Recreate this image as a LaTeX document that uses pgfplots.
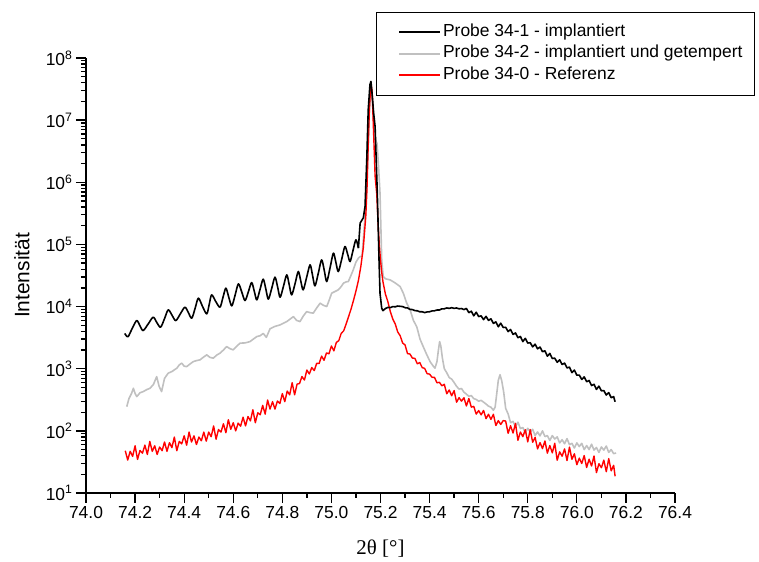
\documentclass[border=0pt]{standalone}
\usepackage{fontspec}
\setmainfont{Liberation Sans}
\newfontfamily\seriffont{Liberation Serif}
\usepackage{pgfplots}
\pgfplotsset{compat=1.18}
\pgfplotstableread{
x y
74.158 3700
74.163 3450
74.172 3290
74.190 4600
74.207 5950
74.220 4900
74.233 4110
74.254 5300
74.274 6750
74.289 5500
74.304 4660
74.320 6400
74.335 8850
74.351 7200
74.366 5950
74.385 7700
74.403 9780
74.417 8000
74.431 6500
74.445 9500
74.458 13650
74.475 10000
74.492 7630
74.502 10800
74.512 15420
74.529 12000
74.546 9780
74.558 14000
74.570 19780
74.582 14000
74.594 10260
74.608 15500
74.621 23200
74.635 17000
74.648 12500
74.662 17500
74.675 24330
74.686 17500
74.696 12820
74.709 18800
74.722 27600
74.733 19000
74.743 13150
74.757 19800
74.770 29720
74.781 20500
74.791 14160
74.805 21500
74.818 32400
74.828 22500
74.838 15420
74.852 23500
74.865 36640
74.875 26000
74.885 18580
74.899 29500
74.913 46900
74.923 32000
74.933 21540
74.947 35000
74.960 56490
74.971 38000
74.981 25290
74.995 43000
75.008 72400
75.018 52000
75.028 36640
75.042 58000
75.055 92500
75.066 70000
75.076 53100
75.088 80000
75.100 118600
75.110 87100
}\blackA
\pgfplotstableread{
x y
75.110 87100
75.117 220300
75.130 268000
75.137 407000
75.144 2.3e6
75.150 1.47e7
75.157 3.72e7
75.161 4.2e7
75.166 2.6e7
75.172 1.3e7
75.178 7.9e6
75.187 6.7e5
75.194 5.65e4
75.198 1.64e4
75.205 9400
75.210 8600
75.220 9300
75.230 9700
75.240 9600
75.250 10000
75.260 9900
75.270 10200
75.280 10100
75.290 10000
75.300 9600
75.310 9500
75.320 9000
75.330 8950
75.340 8600
75.350 8550
75.360 8250
75.370 8250
75.380 8000
75.390 8200
75.400 8250
75.410 8500
75.420 8550
75.430 8800
75.440 8800
75.450 9200
75.460 9200
75.470 9500
75.480 9350
75.490 9600
75.500 9350
75.510 9500
75.520 9200
75.530 9300
75.540 8950
75.55 9330
75.56 7990
75.57 8420
75.58 7100
75.59 8100
75.60 6910
75.61 7090
75.62 6160
75.63 6960
75.64 5990
75.65 6360
75.66 5360
75.67 5670
75.68 4730
75.69 5400
75.70 4610
75.71 4640
75.72 3960
75.73 4280
75.74 3560
75.75 3760
75.76 3150
75.77 3300
75.78 2730
75.79 3080
75.80 2590
75.81 2620
75.82 2250
75.83 2480
75.84 2090
75.85 2230
75.86 1880
75.87 1940
75.88 1590
75.89 1760
75.90 1460
75.91 1480
75.92 1270
75.93 1390
75.94 1170
75.95 1230
75.96 1030
75.97 1060
75.98 865
75.99 950
76.00 787
76.01 790
76.02 672
76.03 738
76.04 618
76.05 647
76.06 536
76.07 562
76.08 464
76.09 524
76.10 442
76.11 444
76.12 377
76.13 412
76.14 342
76.15 355
76.156 294
}\blackB
\pgfplotstableread{
x y
74.166 245
74.175 330
74.186 403
74.193 485
74.200 400
74.207 356
74.220 410
74.233 428
74.247 460
74.261 485
74.275 560
74.288 746
74.298 520
74.308 428
74.320 700
74.335 848
74.350 900
74.370 1020
74.380 1150
74.390 1230
74.400 1100
74.410 1080
74.425 1200
74.437 1300
74.450 1350
74.465 1390
74.480 1550
74.492 1670
74.505 1520
74.519 1480
74.532 1650
74.546 1780
74.560 2000
74.573 2270
74.587 2100
74.600 2010
74.614 2300
74.628 2580
74.648 2600
74.668 2730
74.682 3000
74.696 3290
74.710 3400
74.722 3700
74.735 3200
74.750 4400
74.770 4800
74.791 5070
74.805 5400
74.818 5730
74.832 6300
74.845 6900
74.858 6000
74.872 5730
74.885 7000
74.899 8300
74.912 8000
74.926 7830
74.940 9500
74.954 11350
74.967 10500
74.981 10000
74.992 13000
75.001 16440
75.015 17500
75.028 18580
75.040 21000
75.049 23800
75.060 25000
75.069 25290
75.080 32000
75.089 39000
75.100 52000
75.110 60100
75.117 63800
75.125 65000
75.130 1.2e5
75.140 4.0e5
75.148 2.5e6
75.155 1.5e7
75.162 3.2e7
75.168 2.0e7
75.174 7.0e6
75.180 4.8e6
75.186 4.2e6
75.192 1.8e6
75.198 6.7e5
75.205 5.6e4
75.211 3.04e4
75.220 2.8e4
75.239 2.69e4
75.260 2.4e4
75.280 2.1e4
75.293 1.64e4
75.307 1.13e4
75.320 9000
75.334 6000
75.348 4700
75.361 3000
75.374 2270
75.388 1700
75.402 1300
75.415 1100
75.422 1020
75.430 1300
75.436 2000
75.441 2730
75.446 2300
75.452 1500
75.460 1000
75.470 860
75.480 720
75.490 680
75.500 600
75.510 520
75.520 470
75.530 480
75.540 420
75.550 390
75.560 360
75.570 370
75.580 330
75.590 320
75.600 300
75.610 310
75.620 290
75.630 270
75.640 250
75.650 240
75.660 215
75.667 240
75.672 350
75.680 650
75.687 800
75.694 640
75.702 420
75.710 230
75.72 187
75.73 135
75.74 142
75.75 116
75.76 138
75.77 109
75.78 113
75.79 93
75.80 110
75.81 96
75.82 106
75.83 84
75.84 96
75.85 83
75.86 100
75.87 81
75.88 84
75.89 70
75.90 84
75.91 74
75.92 80
75.93 64
75.94 72
75.95 62
75.96 75
75.97 60
75.98 63
75.99 53
76.00 64
76.01 56
76.02 63
76.03 50
76.04 58
76.05 50
76.06 61
76.07 49
76.08 54
76.09 45
76.10 55
76.11 49
76.12 57
76.13 45
76.14 50
76.15 43
76.16 44
}\grey
\pgfplotstableread{
x y
74.16 47.9
74.17 33.9
74.18 46.8
74.19 38.9
74.20 57.5
74.21 34.7
74.22 48.4
74.23 43.7
74.24 58.9
74.25 41.7
74.26 67.6
74.27 46.8
74.28 57.5
74.29 41.7
74.30 55.0
74.31 47.9
74.32 66.1
74.33 46.8
74.34 64.6
74.35 53.7
74.36 79.4
74.37 47.9
74.38 67.6
74.39 61.7
74.40 83.2
74.41 58.9
74.42 95.5
74.43 66.1
74.44 83.2
74.45 60.3
74.46 79.4
74.47 69.2
74.48 95.5
74.49 68.4
74.50 95.5
74.51 80.4
74.52 120
74.53 73.3
74.54 105
74.55 95.5
74.56 130
74.57 93.3
74.58 151
74.59 106
74.60 135
74.61 100
74.62 133
74.63 119
74.64 166
74.65 120
74.66 170
74.67 145
74.68 219
74.69 135
74.70 195
74.71 182
74.72 257
74.73 186
74.74 313
74.75 224
74.76 295
74.77 224
74.78 302
74.79 275
74.80 398
74.81 295
74.82 437
74.83 380
74.84 596
74.85 380
74.86 565
74.87 578
74.88 748
74.89 658
74.90 951
74.91 824
74.92 1047
74.93 933
74.94 1219
74.95 1213
74.96 1592
74.97 1368
74.98 1795
74.99 1738
75.00 2323
75.01 1941
75.02 2642
75.03 2831
75.04 3715
75.05 4074
75.06 5248
75.07 6918
75.08 9120
75.09 12590
75.10 17780
75.11 26300
75.12 44670
75.13 89130
75.14 281800
75.145 794300
75.15 3.981e6
75.155 1.585e7
75.161 3.98e7
75.166 2.82e7
75.171 7.94e6
75.178 1.26e6
75.185 6.31e5
75.19 2.24e5
75.195 1.0e5
75.20 56230
75.205 35480
75.21 25120
75.22 15850
75.23 12020
75.24 8318
75.25 6310
75.26 5260
75.27 3917
75.28 3404
75.29 2600
75.30 2415
75.31 1754
75.32 1722
75.33 1483
75.34 1469
75.35 1199
75.36 1256
75.37 1042
75.38 1012
75.39 832
75.40 818
75.41 728
75.42 726
75.43 593
75.44 605
75.45 531
75.46 561
75.47 395
75.48 455
75.49 367
75.50 444
75.51 289
75.52 342
75.53 301
75.54 341
75.55 252
75.56 332
75.57 241
75.58 248
75.59 186
75.60 212
75.61 181
75.62 213
75.63 157
75.64 185
75.65 153
75.66 185
75.67 122
75.68 146
75.69 127
75.70 146
75.71 144
75.72 91.4
75.73 121
75.74 92.3
75.75 132
75.76 70.5
75.77 95.9
75.78 80.7
75.79 104
75.80 66.5
75.81 105
75.82 65.5
75.83 78.5
75.84 51.3
75.85 64.7
75.86 51.8
75.87 68.7
75.88 43.8
75.89 58.1
75.90 44.2
75.91 63.2
75.92 33.7
75.93 45.9
75.94 39.1
75.95 51.2
75.96 33.3
75.97 54.7
75.98 34.8
75.99 42.7
76.00 28.5
76.01 36.4
76.02 29.8
76.03 40.0
76.04 25.8
76.05 35.0
76.06 27.2
76.07 39.4
76.08 21.3
76.09 29.6
76.10 25.5
76.11 33.8
76.12 22.0
76.13 35.7
76.14 22.7
76.15 27.9
76.156 18.6
}\red
\begin{document}
\begin{tikzpicture}
\path (-86bp,-69bp) rectangle (673bp,493bp);
\begin{axis}[
  at={(0,0)}, anchor=south west,
  scale only axis,
  width=589bp, height=435bp,
  xmin=74, xmax=76.4,
  ymin=10, ymax=1e8,
  ymode=log,
  clip=false,
  axis x line=bottom, axis y line=left,
  axis line style={line width=1.3bp, -},
  xtick pos=bottom, ytick pos=left,
  xtick={74,74.2,74.4,74.6,74.8,75,75.2,75.4,75.6,75.8,76,76.2,76.4},
  minor x tick num=1,
  ytick={1e1,1e2,1e3,1e4,1e5,1e6,1e7,1e8},
  yticklabels={10\textsuperscript{1},10\textsuperscript{2},10\textsuperscript{3},10\textsuperscript{4},10\textsuperscript{5},10\textsuperscript{6},10\textsuperscript{7},10\textsuperscript{8}},
  minor ytick={20,30,40,50,60,70,80,90,200,300,400,500,600,700,800,900,2000,3000,4000,5000,6000,7000,8000,9000,2e4,3e4,4e4,5e4,6e4,7e4,8e4,9e4,2e5,3e5,4e5,5e5,6e5,7e5,8e5,9e5,2e6,3e6,4e6,5e6,6e6,7e6,8e6,9e6,2e7,3e7,4e7,5e7,6e7,7e7,8e7,9e7},
  tick align=outside,
  major tick length=10bp, minor tick length=5bp,
  tick style={draw=black, line width=1.3bp},
  /pgf/number format/assume math mode=true,
  xticklabel style={/pgf/number format/.cd, fixed, fixed zerofill, precision=1},
  tick label style={font=\fontsize{17.5}{20}\selectfont},
  xlabel={2θ [°]},
  xlabel style={at={(axis description cs:0.5,-0.1287)}, anchor=center, font=\fontsize{21}{24}\selectfont\seriffont},
  ylabel={Intensität},
  ylabel style={at={(axis description cs:-0.1087,0.5)}, anchor=center, font=\fontsize{21}{24}\selectfont},
  legend image code/.code={\path (0bp,0bp); \draw[#1] (12bp,0bp) -- (53bp,0bp);},
  legend style={at={(axis description cs:0.4924,1.1057)}, anchor=north west,
    draw=black, line width=0.9bp, fill=white,
    font=\fontsize{17.5}{20}\selectfont,
    inner xsep=10bp, inner ysep=9bp,
    nodes={inner sep=2bp, text height=13bp, text depth=4.5bp}},
  legend cell align=left,
  every axis plot/.append style={line join=round},
]
\addlegendimage{black, line width=1.6bp}
\addlegendentry{Probe 34-1 - implantiert}
\addlegendimage{color={rgb,255:red,192;green,192;blue,192}, line width=1.6bp}
\addlegendentry{Probe 34-2 - implantiert und getempert}
\addlegendimage{red, line width=1.6bp}
\addlegendentry{Probe 34-0 - Referenz}
\addplot[forget plot, color={rgb,255:red,192;green,192;blue,192}, line width=1.6bp] table {\grey};
\addplot[forget plot, red, line width=1.4bp] table {\red};
\addplot[forget plot, black, line width=1.6bp, smooth] table {\blackA};
\addplot[forget plot, black, line width=1.6bp] table {\blackB};
\pgfplotsinvokeforeach{1e1,1e2,1e3,1e4,1e5,1e6,1e7,1e8}{\draw[black, line width=1.3bp] (axis cs:74,#1) -- ++(-10bp,0bp);}
\pgfplotsinvokeforeach{20,30,40,50,60,70,80,90,200,300,400,500,600,700,800,900,2000,3000,4000,5000,6000,7000,8000,9000,2e4,3e4,4e4,5e4,6e4,7e4,8e4,9e4,2e5,3e5,4e5,5e5,6e5,7e5,8e5,9e5,2e6,3e6,4e6,5e6,6e6,7e6,8e6,9e6,2e7,3e7,4e7,5e7,6e7,7e7,8e7,9e7}{\draw[black, line width=1.3bp] (axis cs:74,#1) -- ++(-5bp,0bp);}
\end{axis}
\end{tikzpicture}
\end{document}
